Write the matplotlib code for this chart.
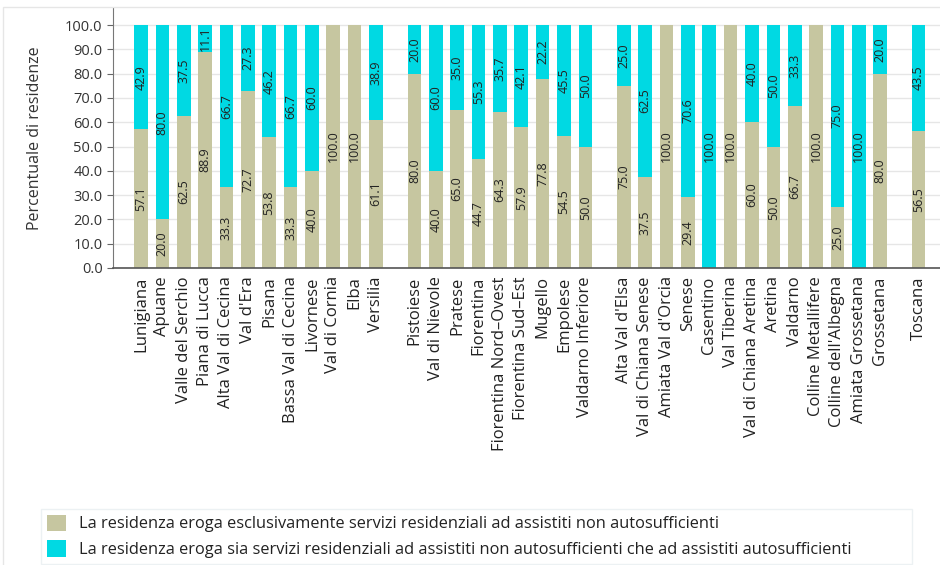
import numpy as np
import matplotlib
matplotlib.use("Agg")
import matplotlib.pyplot as plt
from matplotlib.patches import Rectangle

plt.rcParams['font.family'] = ['Open Sans', 'DejaVu Sans']

# zone grouped by area vasta, last group is the regional total
groups = [
    ["Lunigiana", "Apuane", "Valle del Serchio", "Piana di Lucca", "Alta Val di Cecina",
     "Val d'Era", "Pisana", "Bassa Val di Cecina", "Livornese", "Val di Cornia", "Elba",
     "Versilia"],
    ["Pistoiese", "Val di Nievole", "Pratese", "Fiorentina", "Fiorentina Nord\u2013Ovest",
     "Fiorentina Sud\u2013Est", "Mugello", "Empolese", "Valdarno Inferiore"],
    ["Alta Val d'Elsa", "Val di Chiana Senese", "Amiata Val d'Orcia", "Senese", "Casentino",
     "Val Tiberina", "Val di Chiana Aretina", "Aretina", "Valdarno", "Colline Metallifere",
     "Colline dell'Albegna", "Amiata Grossetana", "Grossetana"],
    ["Toscana"],
]

solo_non_auto = [57.1, 20.0, 62.5, 88.9, 33.3, 72.7, 53.8, 33.3, 40.0, 100.0, 100.0, 61.1,
                 80.0, 40.0, 65.0, 44.7, 64.3, 57.9, 77.8, 54.5, 50.0,
                 75.0, 37.5, 100.0, 29.4, 0.0, 100.0, 60.0, 50.0, 66.7, 100.0, 25.0, 0.0, 80.0,
                 56.5]
entrambi = [42.9, 80.0, 37.5, 11.1, 66.7, 27.3, 46.2, 66.7, 60.0, 0.0, 0.0, 38.9,
            20.0, 60.0, 35.0, 55.3, 35.7, 42.1, 22.2, 45.5, 50.0,
            25.0, 62.5, 0.0, 70.6, 100.0, 0.0, 40.0, 50.0, 33.3, 0.0, 75.0, 100.0, 20.0,
            43.5]

legend_labels = [
    "La residenza eroga esclusivamente servizi residenziali ad assistiti non autosufficienti",
    "La residenza eroga sia servizi residenziali ad assistiti non autosufficienti che ad assistiti autosufficienti",
]
yticks = np.arange(0, 101, 10)

col_a = "#c6c6a0"
col_b = "#00d9e3"

labels = []
pos = []
for g, names in enumerate(groups):
    for i, n in enumerate(names):
        pos.append(len(labels) + 0.8 * g)
        labels.append(n)
pos = np.array(pos)
a = np.array(solo_non_auto)
b = np.array(entrambi)

fig = plt.figure(figsize=(9.4, 5.65), dpi=100)
ax = fig.add_axes([0.1202, 0.5257, 0.8798, 0.46])

ba = ax.bar(pos, a, width=0.64, color=col_a, label=legend_labels[0], zorder=2)
bb = ax.bar(pos, b, width=0.64, bottom=a, color=col_b, label=legend_labels[1], zorder=2)

for x, va, vb in zip(pos, a, b):
    if va > 0:
        ax.text(x, va / 2, f"{va:.1f}", rotation=90, ha="center", va="center",
                fontsize=9, color="#222222", zorder=3)
    if vb > 0:
        ax.text(x, va + vb / 2, f"{vb:.1f}", rotation=90, ha="center", va="center",
                fontsize=9, color="#222222", zorder=3)

ax.set_xlim(-1.31, 37.4)
ax.set_ylim(0, 107)
ax.set_yticks(yticks)
ax.set_yticklabels([f"{t:.1f}" for t in yticks])
ax.set_xticks(pos)
ax.set_xticklabels(labels, rotation=90, fontsize=12, color="#222222")
ax.tick_params(axis="x", length=0, pad=6)
ax.tick_params(axis="y", length=4, color="#666666", labelsize=10.5, labelcolor="#333333")
ax.yaxis.grid(True, color="#e6e6e6", linewidth=1, zorder=0)
ax.set_axisbelow(True)
for s in ["top", "right"]:
    ax.spines[s].set_visible(False)
ax.spines["left"].set_color("#777777")
ax.spines["bottom"].set_color("#555555")
ax.spines["bottom"].set_linewidth(1.2)
ax.set_ylabel("Percentuale di residenze", fontsize=11.5, color="#333333", labelpad=16)

leg = fig.legend(handles=[ba, bb], labels=legend_labels, loc="lower left",
                 bbox_to_anchor=(0.0436, 0.002, 0.927, 0.102), mode="expand",
                 fontsize=11.8, frameon=True, fancybox=False, handlelength=1.15,
                 handleheight=1.15, handletextpad=0.8, labelspacing=0.5, borderpad=0.35,
                 borderaxespad=0)
leg.get_frame().set_edgecolor("#e8eef0")
leg.get_frame().set_linewidth(1)
for t in leg.get_texts():
    t.set_color("#222222")

fig.patches.append(Rectangle((0.003, -0.01), 1.1, 0.998, transform=fig.transFigure,
                             fill=False, edgecolor="#e6e6e6", linewidth=1))

fig.savefig("out.png", dpi=100)
